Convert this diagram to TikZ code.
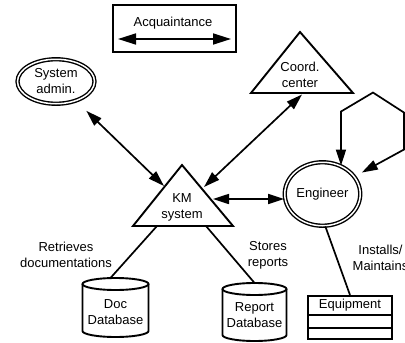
\documentclass[tikz,border=0pt]{standalone}
\usepackage{fontspec}
\setmainfont{Liberation Sans}
\usetikzlibrary{arrows.meta,shapes.geometric}
\begin{document}
\begin{tikzpicture}[x=1pt,y=-1pt,
  line width=1.7pt, line join=miter,
  every node/.style={font=\fontsize{13}{16}\selectfont, align=center, inner sep=0pt},
  biarrow/.style={line width=1.7pt, {Triangle[length=16pt,width=10pt]}-{Triangle[length=16pt,width=10pt]}},
  legarrow/.style={line width=1.7pt, {Triangle[length=18pt,width=11pt]}-{Triangle[length=18pt,width=11pt]}},
  actor/.style={ellipse, draw, double, double distance=1.5pt, line width=1.4pt},
  outline/.style={draw, line width=1.9pt},
  link/.style={line width=1.7pt}
]
\useasboundingbox (0,0) rectangle (405,343);

% legend box
\node[outline, line width=2pt, minimum width=123pt, minimum height=47pt] (legend) at (174.5,28.7) {};
\node (legtxt) at (173,23) {Acquaintance};
\coordinate (la) at (118,39);
\coordinate (lb) at (231,39);
\draw[legarrow] (la) -- (lb);

% actors
\node[actor, minimum width=77pt, minimum height=44.5pt] (admin) at (56,81.5) {System\\admin.};
\node[actor, minimum width=75.5pt, minimum height=63.5pt] (eng) at (322.5,194) {Engineer};

% KM system triangle
\draw[outline] (182,165) -- (233,226) -- (133,226) -- cycle;
\node (km) at (182,207) {KM\\system};
\coordinate (kmA) at (164,186);
\coordinate (kmB) at (204,187);
\coordinate (kmR) at (213,199);
\coordinate (kmBL) at (157,226);
\coordinate (kmBR) at (206,226);

% coordination center triangle
\draw[outline] (300,32) -- (353,93) -- (251,93) -- cycle;
\node (cc) at (300,74.5) {Coord.\\center};
\coordinate (ccBase) at (302,94.5);

% document database
\draw[outline] (82.5,284) -- (82.5,331) arc[start angle=180, end angle=360, x radius=33pt, y radius=6pt] -- (148.5,284);
\draw[outline] (115.5,284) ellipse [x radius=33pt, y radius=6pt];
\node (doc) at (115.5,312.5) {Doc\\Database};
\coordinate (docTop) at (110,278.5);

% report database
\draw[outline] (222.5,289) -- (222.5,335) arc[start angle=180, end angle=360, x radius=32pt, y radius=6pt] -- (286.5,289);
\draw[outline] (254.5,289) ellipse [x radius=32pt, y radius=6pt];
\node (rep) at (254.5,315) {Report\\Database};
\coordinate (repTop) at (255,283.5);

% equipment class box
\node[outline, line width=2pt, minimum width=84pt, minimum height=43pt] (equip) at (350,317.5) {};
\node (eqtxt) at (350,305) {Equipment};
\coordinate (d1) at (0,315);
\coordinate (d2) at (0,328);
\draw[line width=2.6pt] (equip.west |- d1) -- (equip.east |- d1);
\draw[line width=2pt] (equip.west |- d2) -- (equip.east |- d2);

% connectors
\draw[biarrow, shorten >=14pt] (kmA) -- (admin);
\draw[biarrow] (kmB) -- (ccBase);
\draw[biarrow] (kmR) -- (kmR -| eng.west);
\draw[biarrow, shorten >=8pt] (eng.57) -- ++(0,-54) -- ++(32,-19) -- ++(31,20) -- ++(0,37) -- (eng);
\draw[link] (kmBL) -- (docTop);
\draw[link] (kmBR) -- (repTop);
\draw[link] (eng.-85) -- (equip.north);

% relation labels
\node (retr) at (66,255) {Retrieves\\documentations};
\node (stores) at (268,255) {Stores\\reports};
\node (inst) at (380.5,257.5) {Installs/\\Maintains};
\end{tikzpicture}
\end{document}
